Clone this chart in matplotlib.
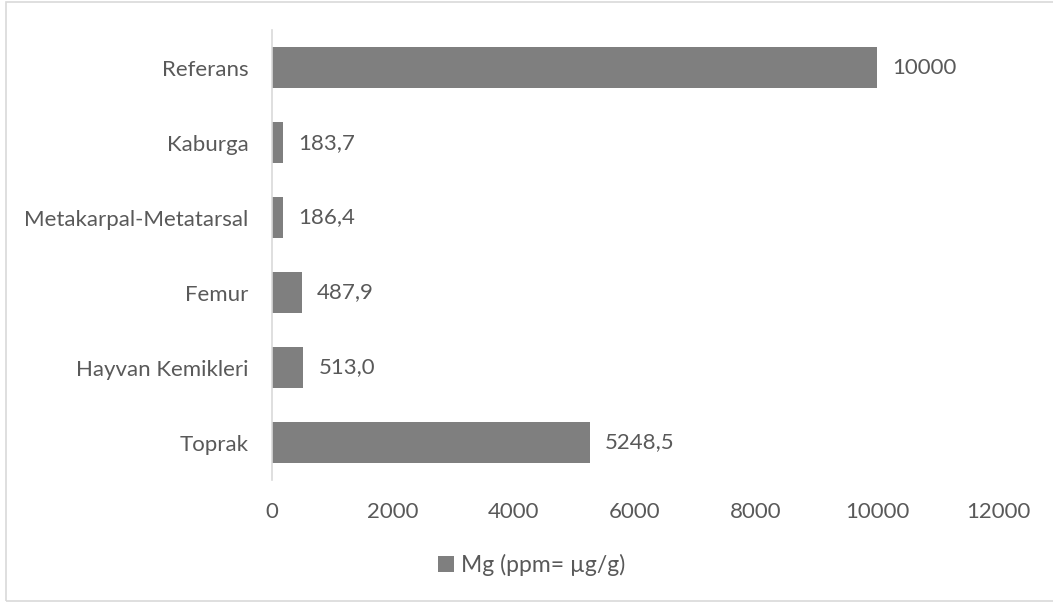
import matplotlib.pyplot as plt
from matplotlib.patches import Rectangle

# data (bottom to top)
categories = ['Toprak', 'Hayvan Kemikleri', 'Femur', 'Metakarpal-Metatarsal', 'Kaburga', 'Referans']
values = [5248.5, 513.0, 487.9, 186.4, 183.7, 10000]
value_labels = ['5248,5', '513,0', '487,9', '186,4', '183,7', '10000']
xticks = [0, 2000, 4000, 6000, 8000, 10000, 12000]
series_name = 'Mg (ppm= µg/g)'

bar_color = '#7f7f7f'
text_color = '#595959'
line_color = '#d9d9d9'

plt.rcParams['font.family'] = ['Lato', 'DejaVu Sans']

fig = plt.figure(figsize=(10.53, 6.03), dpi=100)
ax = fig.add_axes([0.2583, 0.204, 0.6895, 0.746])

bars = ax.barh(range(len(categories)), values, height=0.55, color=bar_color, label=series_name)
for bar, lab in zip(bars, value_labels):
    ax.annotate(lab, (bar.get_width(), bar.get_y() + bar.get_height() / 2),
                xytext=(11, 0), textcoords='offset points', va='center', ha='left',
                fontsize=16, color=text_color)

ax.set_xlim(0, 12000)
ax.set_ylim(-0.5, len(categories) - 0.5)
ax.set_xticks(xticks)
ax.set_xticklabels([str(t) for t in xticks])
ax.set_yticks(range(len(categories)))
ax.set_yticklabels(categories)
ax.tick_params(axis='both', length=0, labelsize=16, labelcolor=text_color)
ax.tick_params(axis='x', pad=16)
ax.tick_params(axis='y', pad=17)

for side in ['top', 'right', 'bottom']:
    ax.spines[side].set_visible(False)
ax.spines['left'].set_color(line_color)
ax.spines['left'].set_linewidth(1.2)

leg = fig.legend(loc='center', bbox_to_anchor=(0.505, 0.063), frameon=False, fontsize=16.5,
                 handlelength=0.7, handleheight=0.7, handletextpad=0.3)
for t in leg.get_texts():
    t.set_color(text_color)

# light grey frame around the chart (right edge falls outside the image)
fig.patches.append(Rectangle((0.0057, 0.0025), 1.0, 0.995, transform=fig.transFigure,
                             fill=False, edgecolor=line_color, linewidth=1.2))

plt.savefig('out.png', dpi=100)
